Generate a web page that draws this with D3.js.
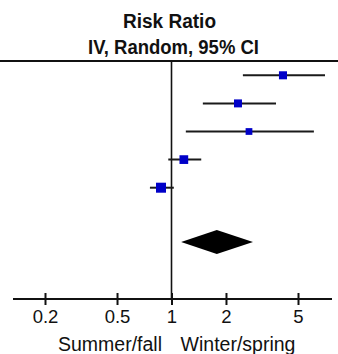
<!DOCTYPE html>
<html>
<head>
<meta charset="utf-8">
<script src="https://cdn.jsdelivr.net/npm/d3@7"></script>
<style>
  html, body { margin: 0; padding: 0; background: #fff; }
  svg { display: block; font-family: Arial, "Liberation Sans", sans-serif; }
</style>
</head>
<body>
<svg id="chart" width="338" height="354"></svg>
<script>
// Study estimates (risk ratio, 95% CI)
const studyRR    = [4.13, 2.33, 2.68, 1.17, 0.875];
const studyLow   = [2.48, 1.49, 1.20, 0.96, 0.76];
const studyHigh  = [7.05, 3.78, 6.12, 1.46, 1.03];
const studyWeight = [18.5, 18.2, 13.0, 21.7, 28.6];

// Pooled estimate
const pooled = { rr: 1.78, low: 1.13, high: 2.82 };

const tickValues = [0.2, 0.5, 1, 2, 5];
const favourLabels = ['Summer/fall', 'Winter/spring'];
const titleLines = ['Risk Ratio', 'IV, Random, 95% CI'];

const svg = d3.select('#chart');
const W = 338;

const x = d3.scaleLog().domain([0.2, 5]).range([45, 298]);
const row = d3.scalePoint().domain(d3.range(studyRR.length)).range([75.3, 187.7]);
const size = d3.scaleSqrt().domain([0, d3.max(studyWeight)]).range([0, 10]);

const topY = 61, axisY = 299, diamondY = 242;

// title (the original glyphs are a bit taller than Arial, so squeeze to width)
const titleW = [93, 171];
svg.selectAll('.title').data(titleLines).join('text')
  .attr('class', 'title')
  .attr('x', (d, i) => i ? 173.5 : 169.5).attr('y', (d, i) => i ? 54 : 28)
  .attr('text-anchor', 'middle')
  .attr('font-weight', 'bold')
  .attr('font-size', 20)
  .attr('textLength', (d, i) => titleW[i])
  .attr('lengthAdjust', 'spacingAndGlyphs')
  .attr('fill', '#111')
  .text(d => d);

// top rule
svg.append('line')
  .attr('x1', 0).attr('x2', W).attr('y1', topY).attr('y2', topY)
  .attr('stroke', '#111').attr('stroke-width', 2);

// line of no effect
svg.append('line')
  .attr('x1', x(1)).attr('x2', x(1)).attr('y1', topY).attr('y2', axisY)
  .attr('stroke', '#111').attr('stroke-width', 1.6);

// confidence intervals
svg.selectAll('.ci').data(studyRR).join('line')
  .attr('class', 'ci')
  .attr('x1', (d, i) => x(studyLow[i])).attr('x2', (d, i) => x(studyHigh[i]))
  .attr('y1', (d, i) => row(i)).attr('y2', (d, i) => row(i))
  .attr('stroke', '#1a1a1a').attr('stroke-width', 2);

// point estimates
svg.selectAll('.pt').data(studyRR).join('rect')
  .attr('class', 'pt')
  .attr('x', (d, i) => x(d) - size(studyWeight[i]) / 2)
  .attr('y', (d, i) => row(i) - size(studyWeight[i]) / 2)
  .attr('width', (d, i) => size(studyWeight[i]))
  .attr('height', (d, i) => size(studyWeight[i]))
  .attr('fill', '#0000c8');

// pooled diamond
svg.append('path')
  .attr('d', `M${x(pooled.low)},${diamondY} L${x(pooled.rr)},${diamondY - 12} L${x(pooled.high)},${diamondY} L${x(pooled.rr)},${diamondY + 12} Z`)
  .attr('fill', '#000');

// axis
const axisG = svg.append('g').attr('transform', `translate(0,${axisY})`);
axisG.append('line')
  .attr('x1', 13).attr('x2', 332)
  .attr('stroke', '#111').attr('stroke-width', 2);
axisG.call(d3.axisBottom(x).tickValues(tickValues).tickFormat(d3.format('')).tickSizeOuter(0))
  .call(g => g.select('.domain').remove())
  .call(g => g.selectAll('.tick line').attr('y1', -6).attr('y2', 6).attr('stroke', '#111').attr('stroke-width', 2))
  .call(g => g.selectAll('.tick text').attr('y', 11).attr('dy', '0.71em')
    .attr('font-size', 18.5).attr('fill', '#111').attr('font-family', 'Arial, "Liberation Sans", sans-serif'));

// favour labels
svg.selectAll('.fav').data(favourLabels).join('text')
  .attr('class', 'fav')
  .attr('x', (d, i) => i ? 238 : 110)
  .attr('y', 351)
  .attr('text-anchor', 'middle')
  .attr('font-size', 19.5)
  .attr('fill', '#111')
  .text(d => d);
</script>
</body>
</html>
